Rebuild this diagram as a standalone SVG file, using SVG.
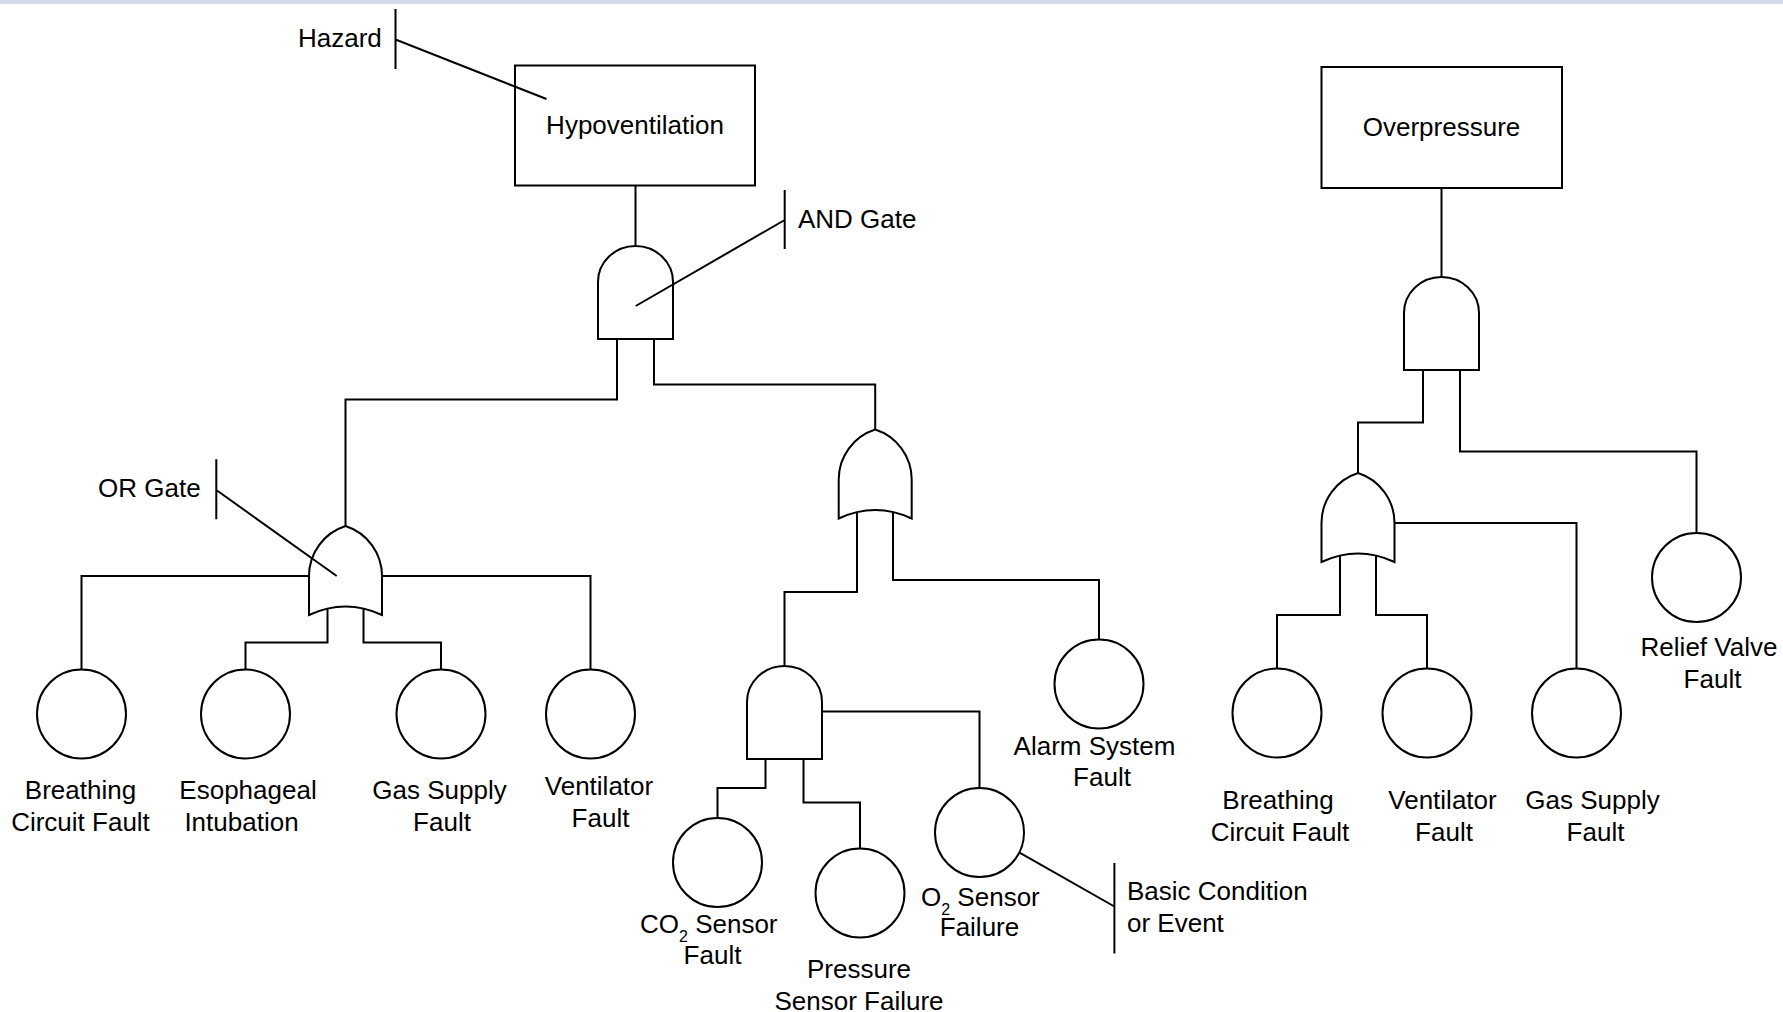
<svg xmlns="http://www.w3.org/2000/svg" width="1783" height="1012" viewBox="0 0 1783 1012">
  <style>
    .wire { fill: none; stroke: #000; stroke-width: 2; stroke-linejoin: miter; }
    .shape { fill: #fff; stroke: #000; stroke-width: 2; }
    .note { fill: none; stroke: #000; stroke-width: 2; }
    text { font-family: "Liberation Sans", Arial, sans-serif; font-size: 26px; fill: #000; }
    .c { text-anchor: middle; }
    .sub { font-size: 16px; }
  </style>
  <defs>
    <!-- gate symbols, origin at the top centre -->
    <path id="and-gate" d="M-37.5,93 V36 A37.5,36 0 0 1 37.5,36 V93 Z"/>
    <path id="or-gate" d="M-36.5,89 V50 A52.5,52.5 0 0 1 0,0 A52.5,52.5 0 0 1 36.5,50 V89 Q0,72 -36.5,89 Z"/>
  </defs>

  <rect x="0" y="0" width="1783" height="4" fill="#d3dae5"/>

  <!-- connectors -->
  <g id="connectors" class="wire">
    <path d="M635.5,185 V246"/>
    <path d="M617,339 V399.5 H345.5 V526"/>
    <path d="M654,339 V384.5 H875.2 V429.5"/>
    <path d="M309.5,576 H81.5 V669.5"/>
    <path d="M381.5,576 H590.5 V669.5"/>
    <path d="M327.5,600 V642.5 H245.5 V669.5"/>
    <path d="M363.5,600 V642.5 H441 V669.5"/>
    <path d="M857,505 V592 H784.5 V666"/>
    <path d="M893,505 V580 H1099 V639.5"/>
    <path d="M765.5,758.5 V788 H717.5 V818"/>
    <path d="M803.5,758.5 V802.5 H860 V848.5"/>
    <path d="M822,711.5 H979.5 V788"/>
    <path d="M1441.5,188 V277"/>
    <path d="M1423,370 V422.5 H1358 V473"/>
    <path d="M1460,370 V451.5 H1696.5 V533"/>
    <path d="M1394.5,523 H1576.5 V668.5"/>
    <path d="M1340,550 V615 H1277 V668.5"/>
    <path d="M1376,550 V615 H1427 V668.5"/>
  </g>

  <!-- top events -->
  <g id="hypoventilation">
    <rect class="shape" x="515" y="65.5" width="240" height="120"/>
    <text class="c" x="635" y="134">Hypoventilation</text>
  </g>
  <g id="overpressure">
    <rect class="shape" x="1321.5" y="67" width="240.5" height="121"/>
    <text class="c" x="1441.5" y="136">Overpressure</text>
  </g>

  <!-- gates -->
  <g id="and-gate-1"><use href="#and-gate" class="shape" x="635.5" y="246"/></g>
  <g id="or-gate-1"><use href="#or-gate" class="shape" x="345.5" y="526"/></g>
  <g id="or-gate-2"><use href="#or-gate" class="shape" x="875.2" y="429.5"/></g>
  <g id="and-gate-2"><use href="#and-gate" class="shape" x="784.5" y="666"/></g>
  <g id="and-gate-3"><use href="#and-gate" class="shape" x="1441.5" y="277"/></g>
  <g id="or-gate-3"><use href="#or-gate" class="shape" x="1358" y="473"/></g>

  <!-- basic events -->
  <g id="breathing-circuit-fault-1">
    <circle class="shape" cx="81.5" cy="714" r="44.5"/>
    <text class="c" x="80.5" y="799">Breathing</text>
    <text class="c" x="80.5" y="831">Circuit Fault</text>
  </g>
  <g id="esophageal-intubation">
    <circle class="shape" cx="245.5" cy="714" r="44.5"/>
    <text class="c" x="248" y="799">Esophageal</text>
    <text class="c" x="241.5" y="831">Intubation</text>
  </g>
  <g id="gas-supply-fault-1">
    <circle class="shape" cx="441" cy="714" r="44.5"/>
    <text class="c" x="439.5" y="799">Gas Supply</text>
    <text class="c" x="442" y="831">Fault</text>
  </g>
  <g id="ventilator-fault-1">
    <circle class="shape" cx="590.5" cy="714" r="44.5"/>
    <text class="c" x="599" y="795">Ventilator</text>
    <text class="c" x="600.5" y="827">Fault</text>
  </g>
  <g id="alarm-system-fault">
    <circle class="shape" cx="1099" cy="684" r="44.5"/>
    <text class="c" x="1094.5" y="755">Alarm System</text>
    <text class="c" x="1102" y="786">Fault</text>
  </g>
  <g id="co2-sensor-fault">
    <circle class="shape" cx="717.5" cy="862.5" r="44.5"/>
    <text x="640" y="932.5">CO<tspan class="sub" dy="9">2</tspan><tspan dy="-9"> Sensor</tspan></text>
    <text class="c" x="712.5" y="963.5">Fault</text>
  </g>
  <g id="pressure-sensor-failure">
    <circle class="shape" cx="860" cy="893" r="44.5"/>
    <text class="c" x="859" y="978">Pressure</text>
    <text class="c" x="859" y="1009.5">Sensor Failure</text>
  </g>
  <g id="o2-sensor-failure">
    <circle class="shape" cx="979.5" cy="832.5" r="44.5"/>
    <text x="921" y="906">O<tspan class="sub" dy="9">2</tspan><tspan dy="-9"> Sensor</tspan></text>
    <text class="c" x="979.5" y="936">Failure</text>
  </g>
  <g id="breathing-circuit-fault-2">
    <circle class="shape" cx="1277" cy="713" r="44.5"/>
    <text class="c" x="1278" y="809">Breathing</text>
    <text class="c" x="1280" y="841">Circuit Fault</text>
  </g>
  <g id="ventilator-fault-2">
    <circle class="shape" cx="1427" cy="713" r="44.5"/>
    <text class="c" x="1442.5" y="809">Ventilator</text>
    <text class="c" x="1444" y="841">Fault</text>
  </g>
  <g id="gas-supply-fault-2">
    <circle class="shape" cx="1576.5" cy="713" r="44.5"/>
    <text class="c" x="1592.5" y="809">Gas Supply</text>
    <text class="c" x="1595.5" y="841">Fault</text>
  </g>
  <g id="relief-valve-fault">
    <circle class="shape" cx="1696.5" cy="577.5" r="44.5"/>
    <text class="c" x="1709" y="655.5">Relief Valve</text>
    <text class="c" x="1712.5" y="687.5">Fault</text>
  </g>

  <!-- legend callouts -->
  <g id="callout-hazard">
    <path class="note" d="M395.5,9 V69 M395.5,39.5 L546.5,99"/>
    <text x="298" y="47">Hazard</text>
  </g>
  <g id="callout-and-gate">
    <path class="note" d="M784.7,190 V249 M784.7,220 L635.7,306"/>
    <text x="798" y="227.5">AND Gate</text>
  </g>
  <g id="callout-or-gate">
    <path class="note" d="M216.3,459.3 V519.3 M216.3,490 L336.7,576"/>
    <text x="98" y="497">OR Gate</text>
  </g>
  <g id="callout-basic-event">
    <path class="note" d="M1114.4,863 V953.5 M1020,852.8 L1114.4,906.5"/>
    <text x="1127" y="900">Basic Condition</text>
    <text x="1127" y="932">or Event</text>
  </g>
</svg>
